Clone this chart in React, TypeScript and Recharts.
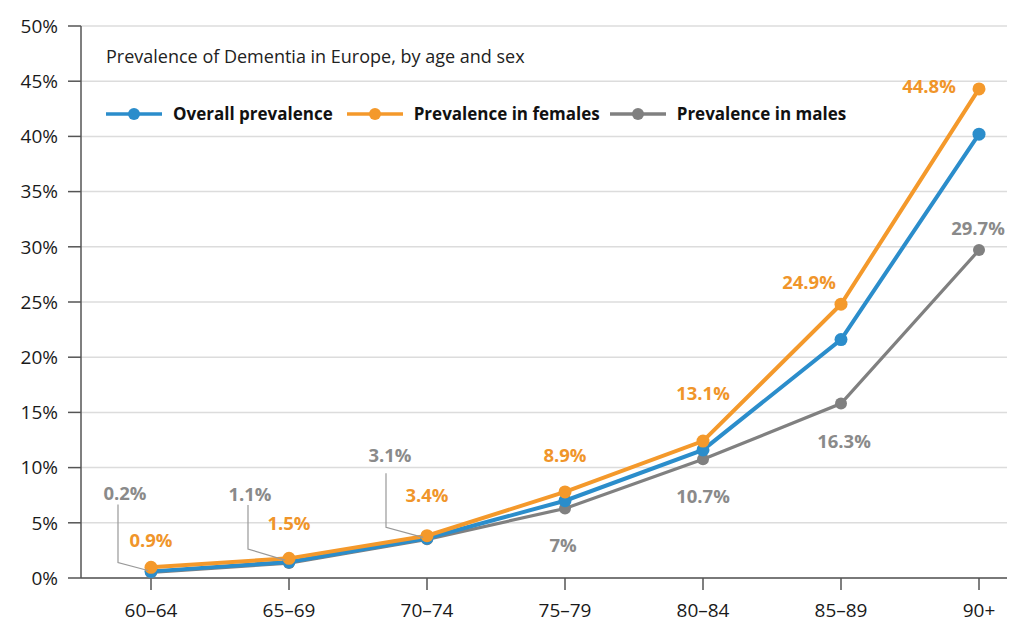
import React from 'react';
import { LineChart, Line, XAxis, YAxis, CartesianGrid, LabelList } from 'recharts';

const ageGroups = ['60–64', '65–69', '70–74', '75–79', '80–84', '85–89', '90+'];
const overall = [0.6, 1.45, 3.6, 7.0, 11.6, 21.6, 40.2];
const females = [0.97, 1.78, 3.83, 7.8, 12.4, 24.8, 44.3];
const males = [0.5, 1.35, 3.5, 6.3, 10.75, 15.8, 29.7];
const femaleLabels = ['0.9%', '1.5%', '3.4%', '8.9%', '13.1%', '24.9%', '44.8%'];
const maleLabels = ['0.2%', '1.1%', '3.1%', '7%', '10.7%', '16.3%', '29.7%'];
const yTicks = [0, 5, 10, 15, 20, 25, 30, 35, 40, 45, 50];
const seriesNames = ['Overall prevalence', 'Prevalence in females', 'Prevalence in males'];
const chartTitle = 'Prevalence of Dementia in Europe, by age and sex';

const data = ageGroups.map((age, i) => ({
  age,
  overall: overall[i],
  females: females[i],
  males: males[i],
}));

const FONT = '"Open Sans", sans-serif';
const BLUE = '#2b8dcb';
const ORANGE = '#f4992b';
const GRAY = '#808080';
const ORANGE_TXT = '#f0952a';
const GRAY_TXT = '#8a8a8a';

const femaleOffsets = [[0, -27], [0, -35], [0, -40], [0, -36], [0, -48], [-32, -22], [-50, -2]];
const maleOffsets = [[-26, -79], [-39, -69], [-37, -84], [-2, 37], [0, 37], [3, 38], [-1, -22]];
const maleLeaders: (number[][] | null)[] = [
  [[-33, -68], [-33, -10], [-3, -2]],
  [[-41, -58], [-41, -14], [-4, -3]],
  [[-41, -66], [-41, -12], [-4, -2]],
  null, null, null, null,
];

const makeLabel = (labels: string[], offsets: number[][], color: string, leaders?: (number[][] | null)[]) =>
  (props: any) => {
    const { x, y, index } = props;
    const [dx, dy] = offsets[index];
    const lead = leaders ? leaders[index] : null;
    return (
      <g>
        {lead && (
          <polyline
            points={lead.map((p) => `${x + p[0]},${y + p[1]}`).join(' ')}
            fill="none"
            stroke="#999"
            strokeWidth={1.2}
          />
        )}
        <text
          x={x + dx}
          y={y + dy}
          dy={6.5}
          textAnchor="middle"
          fill={color}
          fontFamily={FONT}
          fontWeight={700}
          fontSize={18.5}
        >
          {labels[index]}
        </text>
      </g>
    );
  };

const LegendItem = ({ color, label, mr }: { color: string; label: string; mr: number }) => (
  <div style={{ display: 'flex', alignItems: 'center', marginRight: mr }}>
    <svg width={56} height={14} style={{ marginRight: 11 }}>
      <line x1={0} y1={7} x2={56} y2={7} stroke={color} strokeWidth={3.5} />
      <circle cx={28} cy={7} r={6} fill={color} />
    </svg>
    <span style={{ fontWeight: 700, fontSize: 17, color: '#111' }}>{label}</span>
  </div>
);

export default function App() {
  return (
    <div style={{ position: 'relative', width: 1007, height: 616, fontFamily: FONT }}>
      <LineChart
        width={1007}
        height={616}
        data={data}
        margin={{ top: 18, right: 0, bottom: 0, left: 0 }}
        style={{ fontFamily: FONT }}
      >
        <CartesianGrid horizontal vertical={false} stroke="#dcdcdc" strokeWidth={1.5} />
        <XAxis
          dataKey="age"
          padding={{ left: 70, right: 36 }}
          height={46}
          tickSize={12}
          tickMargin={14}
          axisLine={{ stroke: '#555', strokeWidth: 1.5 }}
          tickLine={{ stroke: '#555', strokeWidth: 1.5 }}
          tick={{ fill: '#1a1a1a', fontSize: 19, fontFamily: FONT }}
          interval={0}
        />
        <YAxis
          width={73}
          domain={[0, 50]}
          ticks={yTicks}
          tickFormatter={(v) => `${v}%`}
          tickSize={13}
          tickMargin={10}
          axisLine={{ stroke: '#555', strokeWidth: 1.5 }}
          tickLine={{ stroke: '#555', strokeWidth: 1.5 }}
          tick={{ fill: '#1a1a1a', fontSize: 19, fontFamily: FONT }}
          interval={0}
        />
        <Line
          dataKey="males"
          name={seriesNames[2]}
          stroke={GRAY}
          strokeWidth={3.2}
          dot={{ r: 6, fill: GRAY, stroke: 'none' }}
          isAnimationActive={false}
        >
          <LabelList dataKey="males" content={makeLabel(maleLabels, maleOffsets, GRAY_TXT, maleLeaders)} />
        </Line>
        <Line
          dataKey="overall"
          name={seriesNames[0]}
          stroke={BLUE}
          strokeWidth={4}
          dot={{ r: 6.5, fill: BLUE, stroke: 'none' }}
          isAnimationActive={false}
        />
        <Line
          dataKey="females"
          name={seriesNames[1]}
          stroke={ORANGE}
          strokeWidth={4}
          dot={{ r: 6.5, fill: ORANGE, stroke: 'none' }}
          isAnimationActive={false}
        >
          <LabelList dataKey="females" content={makeLabel(femaleLabels, femaleOffsets, ORANGE_TXT)} />
        </Line>
      </LineChart>
      <div style={{ position: 'absolute', left: 98, top: 36, fontSize: 18, color: '#222', lineHeight: '24px' }}>
        {chartTitle}
      </div>
      <div style={{ position: 'absolute', left: 98, top: 94, display: 'flex', lineHeight: '24px' }}>
        <LegendItem color={BLUE} label={seriesNames[0]} mr={14} />
        <LegendItem color={ORANGE} label={seriesNames[1]} mr={10} />
        <LegendItem color={GRAY} label={seriesNames[2]} mr={0} />
      </div>
    </div>
  );
}
